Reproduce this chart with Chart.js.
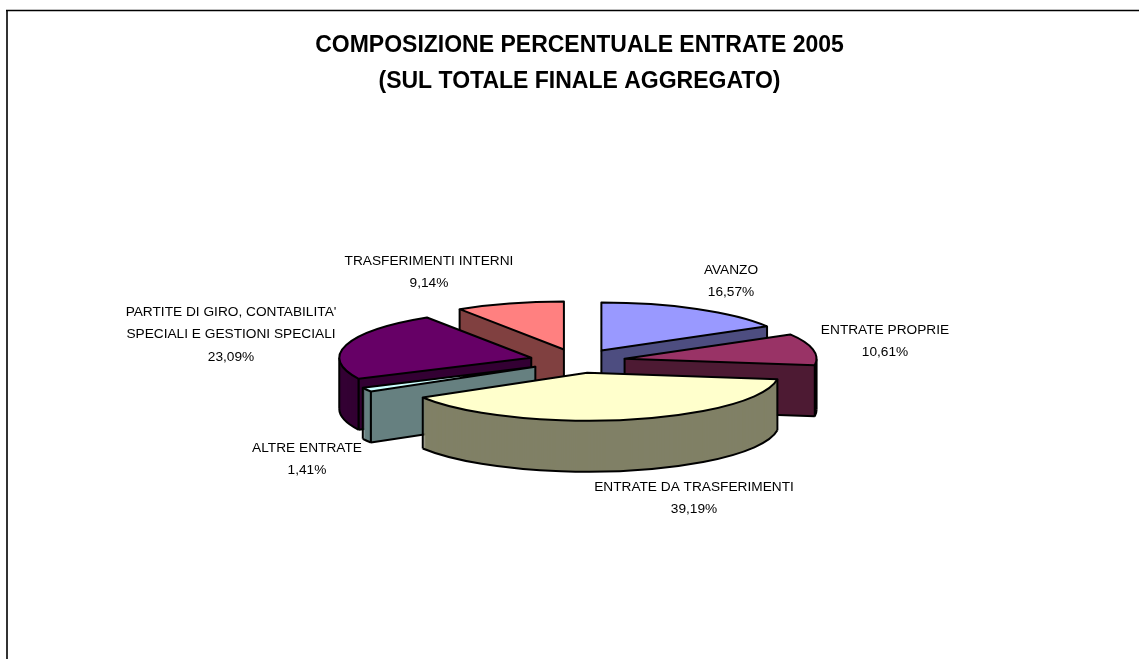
<!DOCTYPE html>
<html>
<head>
<meta charset="utf-8">
<title>Composizione percentuale entrate 2005</title>
<script src="https://cdn.jsdelivr.net/npm/chart.js@4"></script>
<style>
  html, body { margin: 0; padding: 0; background: #fff; }
  #chart { display: block; }
</style>
</head>
<body>
<canvas id="chart" width="1139" height="659"></canvas>
<script>
const titleLines = ["COMPOSIZIONE PERCENTUALE ENTRATE 2005", "(SUL TOTALE FINALE AGGREGATO)"];
const categories = [
  "AVANZO",
  "ENTRATE PROPRIE",
  "ENTRATE DA TRASFERIMENTI",
  "ALTRE ENTRATE",
  "PARTITE DI GIRO, CONTABILITA'|SPECIALI E GESTIONI SPECIALI",
  "TRASFERIMENTI INTERNI",
];
const values = [16.57, 10.61, 39.19, 1.41, 23.09, 9.14];
const topColors = ["#9999FF", "#993366", "#FFFFCC", "#CCFFFF", "#660066", "#FF8080"];
const wallColors = ["#4D4D80", "#4D1A33", "#808066", "#668080", "#330033", "#804040"];

// pie look: squash, explode and thickness of the fake 3D
const SQUASH = 0.25;
const EXPLODE = 48;
const DEPTH = 51;
// the pie sits a bit left of the title centre
const PIE_NUDGE = -2;
// back to front, so the nearer slices cover the others
const drawOrder = [5, 0, 4, 3, 1, 2];
// centre x, first line y of every label
const labelSpots = [[731, 270], [885, 330], [694, 487], [307, 448], [231, 312], [429, 261]];

function pointAt(arc, angle, dy) {
  return {
    x: arc.x + Math.cos(angle) * arc.outerRadius,
    y: arc.y + Math.sin(angle) * arc.outerRadius * SQUASH + dy,
  };
}

function explodeShift(arc) {
  const mid = (arc.startAngle + arc.endAngle) / 2;
  return { x: Math.cos(mid) * EXPLODE + PIE_NUDGE, y: Math.sin(mid) * EXPLODE * SQUASH };
}

function drawArcFlat(ctx, arc, dy) {
  ctx.save();
  ctx.translate(0, arc.y + dy);
  ctx.scale(1, SQUASH);
  ctx.translate(0, -arc.y);
  arc.draw(ctx);
  ctx.restore();
}

function line(ctx, a, b) {
  ctx.beginPath();
  ctx.moveTo(a.x, a.y);
  ctx.lineTo(b.x, b.y);
  ctx.stroke();
}

function drawSlice(ctx, arc, i) {
  const start = arc.startAngle;
  const end = arc.endAngle;
  const shift = explodeShift(arc);
  const topOptions = arc.options;
  const apex = { x: arc.x, y: arc.y };
  const apexLow = { x: arc.x, y: arc.y + DEPTH };

  ctx.save();
  ctx.translate(shift.x, shift.y);
  ctx.lineWidth = 2;
  ctx.strokeStyle = "#000";
  ctx.lineJoin = "round";

  // walls: the same arc stacked downwards
  arc.options = Object.assign({}, topOptions, { backgroundColor: wallColors[i] });
  for (let dy = DEPTH; dy > 0; dy--) drawArcFlat(ctx, arc, dy);
  arc.options = topOptions;

  // outer wall only shows on the front half (canvas angles 0..PI)
  const from = Math.max(start, 0);
  const to = Math.min(end, Math.PI);
  if (to > from) {
    ctx.beginPath();
    ctx.ellipse(arc.x, arc.y + DEPTH, arc.outerRadius, arc.outerRadius * SQUASH, 0, from, to);
    ctx.stroke();
    [from, to].forEach((a) => line(ctx, pointAt(arc, a, 0), pointAt(arc, a, DEPTH)));
  }

  // cut faces: start side faces us on the left half, end side on the right
  const edges = [];
  if (Math.cos(start) < 0) edges.push(start);
  if (Math.cos(end) > 0) edges.push(end);
  edges.forEach((a) => {
    const outer = pointAt(arc, a, 0);
    const outerLow = pointAt(arc, a, DEPTH);
    // solid fill, stacked arcs leave streaks on thin slices
    ctx.fillStyle = wallColors[i];
    ctx.beginPath();
    ctx.moveTo(apex.x, apex.y);
    ctx.lineTo(outer.x, outer.y);
    ctx.lineTo(outerLow.x, outerLow.y);
    ctx.lineTo(apexLow.x, apexLow.y);
    ctx.closePath();
    ctx.fill();
    line(ctx, outerLow, apexLow);
    line(ctx, outer, outerLow);
    line(ctx, apex, apexLow);
  });

  drawArcFlat(ctx, arc, 0);
  ctx.beginPath();
  ctx.moveTo(apex.x, apex.y);
  ctx.ellipse(arc.x, arc.y, arc.outerRadius, arc.outerRadius * SQUASH, 0, start, end);
  ctx.closePath();
  ctx.stroke();
  ctx.restore();
}

const pie3d = {
  id: "pie3d",
  beforeDraw(chart) {
    const ctx = chart.ctx;
    ctx.save();
    ctx.lineWidth = 2;
    ctx.strokeStyle = "#333";
    line(ctx, { x: 7, y: 659 }, { x: 7, y: 10 });
    ctx.lineWidth = 1.5;
    ctx.strokeStyle = "#000";
    line(ctx, { x: 6, y: 10.5 }, { x: 1139, y: 10.5 });
    ctx.restore();
  },
  beforeDatasetsDraw(chart) {
    const arcs = chart.getDatasetMeta(0).data;
    drawOrder.forEach((i) => drawSlice(chart.ctx, arcs[i], i));
    return false;
  },
  afterDraw(chart) {
    const ctx = chart.ctx;
    ctx.save();
    ctx.font = "13.7px 'Liberation Sans'";
    ctx.fillStyle = "#000";
    ctx.textAlign = "center";
    ctx.textBaseline = "middle";
    categories.forEach((name, i) => {
      const lines = name.split("|").concat(values[i].toFixed(2).replace(".", ",") + "%");
      lines.forEach((text, n) => ctx.fillText(text, labelSpots[i][0], labelSpots[i][1] + n * 22.5));
    });
    ctx.restore();
  },
};

new Chart(document.getElementById("chart"), {
  type: "pie",
  data: {
    labels: categories,
    datasets: [{ data: values, backgroundColor: topColors, borderWidth: 0 }],
  },
  options: {
    responsive: false,
    animation: false,
    layout: { padding: { left: 20, right: 0, top: 0, bottom: 106 } },
    plugins: {
      legend: { display: false },
      tooltip: { enabled: false },
      title: {
        display: true,
        text: titleLines,
        color: "#000",
        font: { family: "'Liberation Sans'", size: 23, weight: "bold", lineHeight: 36 / 23 },
        padding: { top: 28, bottom: 69 },
      },
    },
  },
  plugins: [pie3d],
});
</script>
</body>
</html>
